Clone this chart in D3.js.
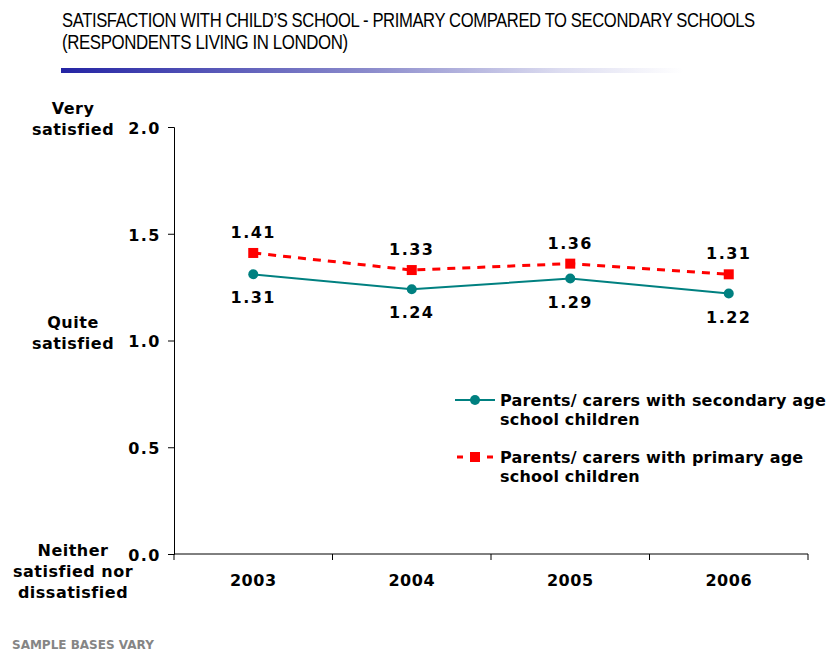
<!DOCTYPE html>
<html>
<head>
<meta charset="utf-8">
<script src="https://cdn.jsdelivr.net/npm/d3@7"></script>
<style>
  body { margin: 0; background: #fff; }
  text { font-family: "DejaVu Sans", Verdana, sans-serif; }
</style>
</head>
<body>
<svg id="vis" width="832" height="654"></svg>
<script>
// data
const years = ["2003", "2004", "2005", "2006"];
const secondary = [1.31, 1.24, 1.29, 1.22];
const primary = [1.41, 1.33, 1.36, 1.31];
const yTicks = [0, 0.5, 1.0, 1.5, 2.0];
const yCaptions = [
  { value: 2.0, lines: ["Very", "satisfied"] },
  { value: 1.0, lines: ["Quite", "satisfied"] },
  { value: 0.0, lines: ["Neither", "satisfied nor", "dissatisfied"] }
];
const seriesNames = [
  ["Parents/ carers with secondary age", "school children"],
  ["Parents/ carers with primary age", "school children"]
];
const titleLines = [
  "SATISFACTION WITH CHILD’S SCHOOL  - PRIMARY COMPARED TO SECONDARY SCHOOLS",
  "(RESPONDENTS LIVING IN LONDON)"
];

const svg = d3.select("svg#vis");
const titleFont = "'Liberation Sans Narrow', 'Liberation Sans', Arial, sans-serif";

// title, squeezed horizontally to look like a condensed face
const defs = svg.append("defs");
const grad = defs.append("linearGradient").attr("id", "bar");
grad.append("stop").attr("offset", "0%").attr("stop-color", "#2424a4");
grad.append("stop").attr("offset", "50%").attr("stop-color", "#8c8ccc");
grad.append("stop").attr("offset", "80%").attr("stop-color", "#dcdcf0");
grad.append("stop").attr("offset", "100%").attr("stop-color", "#ffffff");

const titleWidths = [693, 286];
titleLines.forEach(function(s, i) {
  const t = svg.append("text")
    .attr("x", 0).attr("y", 0)
    .style("font-family", titleFont)
    .style("font-size", "21px")
    .style("letter-spacing", "-0.5px")
    .text(s);
  const w = t.node().getComputedTextLength();
  t.attr("transform", "translate(62," + (27 + i * 22) + ") scale(" + (titleWidths[i] / w) + ",1)");
});
svg.append("rect")
  .attr("x", 61).attr("y", 68).attr("width", 622).attr("height", 5)
  .attr("fill", "url(#bar)");

// scales
const x = d3.scaleBand().domain(years).range([174, 808]);
const y = d3.scaleLinear().domain([0, 2]).range([554, 127]);

const bold16 = sel => sel.style("font-size", "16px").style("font-weight", "bold");

// y axis
const yAxis = svg.append("g")
  .attr("transform", "translate(174,0)")
  .call(d3.axisLeft(y).tickValues(yTicks).tickFormat(d3.format(".1f")).tickSize(6).tickPadding(7));
yAxis.select(".domain").attr("stroke", "#000");
yAxis.selectAll("text")
  .call(bold16)
  .style("font-family", "'DejaVu Sans', Verdana, sans-serif")
  .style("letter-spacing", "1.5px")
  .attr("dy", "0.4em");

// x axis with ticks at category boundaries
const xAxis = svg.append("g").attr("transform", "translate(0,554)");
xAxis.append("line").attr("x1", 174).attr("x2", 808).attr("stroke", "#000");
const bounds = years.map(d => x(d)).concat([x.range()[1]]);
xAxis.selectAll("line.tick").data(bounds).enter().append("line")
  .attr("class", "tick")
  .attr("x1", d => d).attr("x2", d => d)
  .attr("y1", 0).attr("y2", 6).attr("stroke", "#000");
xAxis.selectAll("text").data(years).enter().append("text")
  .attr("x", d => x(d) + x.bandwidth() / 2).attr("y", 32)
  .attr("text-anchor", "middle")
  .call(bold16).style("letter-spacing", "0.5px")
  .text(d => d);

// y captions
yCaptions.forEach(function(c) {
  const n = c.lines.length;
  const t = svg.append("text")
    .attr("text-anchor", "middle")
    .call(bold16).style("letter-spacing", "0.5px");
  const base = c.value === 0 ? y(c.value) + 2 : y(c.value) + 8 - (n - 1) * 21;
  c.lines.forEach(function(l, i) {
    t.append("tspan").attr("x", 73).attr("y", base + i * 21).text(l);
  });
});

// lines
const line = d3.line()
  .x((d, i) => x(years[i]) + x.bandwidth() / 2)
  .y(d => y(d));

svg.append("path").datum(secondary)
  .attr("d", line).attr("fill", "none")
  .attr("stroke", "#008080").attr("stroke-width", 2);
svg.append("path").datum(primary)
  .attr("d", line).attr("fill", "none")
  .attr("stroke", "#ff0000").attr("stroke-width", 3)
  .attr("stroke-dasharray", "8,7");

svg.selectAll("circle.sec").data(secondary).enter().append("circle")
  .attr("class", "sec")
  .attr("cx", (d, i) => x(years[i]) + x.bandwidth() / 2)
  .attr("cy", d => y(d)).attr("r", 5)
  .attr("fill", "#008080");
svg.selectAll("rect.pri").data(primary).enter().append("rect")
  .attr("class", "pri")
  .attr("x", (d, i) => x(years[i]) + x.bandwidth() / 2 - 5)
  .attr("y", d => y(d) - 5).attr("width", 10).attr("height", 10)
  .attr("fill", "#ff0000");

// data labels
svg.selectAll("text.lsec").data(secondary).enter().append("text")
  .attr("class", "lsec")
  .attr("x", (d, i) => x(years[i]) + x.bandwidth() / 2)
  .attr("y", d => y(d) + 29)
  .attr("text-anchor", "middle")
  .call(bold16).style("letter-spacing", "1.5px")
  .text(d => d.toFixed(2));
svg.selectAll("text.lpri").data(primary).enter().append("text")
  .attr("class", "lpri")
  .attr("x", (d, i) => x(years[i]) + x.bandwidth() / 2)
  .attr("y", d => y(d) - 15)
  .attr("text-anchor", "middle")
  .call(bold16).style("letter-spacing", "1.5px")
  .text(d => d.toFixed(2));

// legend
const legend = svg.append("g");
const l1 = legend.append("g").attr("transform", "translate(455,400)");
l1.append("line").attr("x1", 0).attr("x2", 40).attr("stroke", "#008080").attr("stroke-width", 2);
l1.append("circle").attr("cx", 20).attr("r", 5).attr("fill", "#008080");
const l2 = legend.append("g").attr("transform", "translate(455,457)");
l2.append("line").attr("x1", 2).attr("x2", 40).attr("stroke", "#ff0000").attr("stroke-width", 3)
  .attr("stroke-dasharray", "6,9");
l2.append("rect").attr("x", 15).attr("y", -5).attr("width", 10).attr("height", 10).attr("fill", "#ff0000");
[l1, l2].forEach(function(g, i) {
  const t = g.append("text").call(bold16).style("letter-spacing", "0.2px");
  seriesNames[i].forEach(function(s, j) {
    t.append("tspan").attr("x", 45).attr("y", 6 + j * 19).text(s);
  });
});

// footer
svg.append("text")
  .attr("x", 12).attr("y", 649)
  .style("font-size", "12px").style("font-weight", "bold")
  .attr("fill", "#858585")
  .text("SAMPLE BASES VARY");
</script>
</body>
</html>
